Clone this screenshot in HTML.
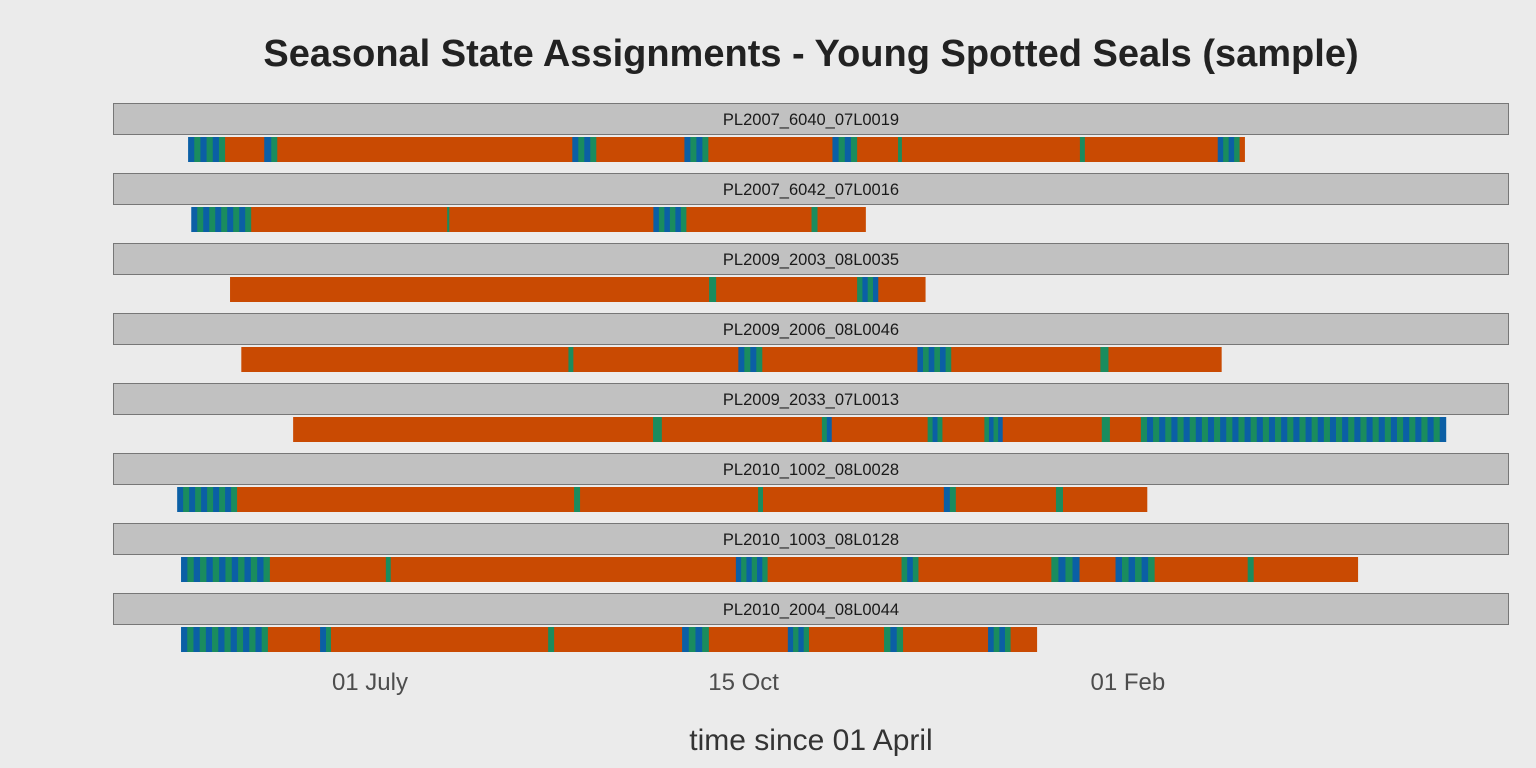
<!DOCTYPE html>
<html><head><meta charset="utf-8"><style>
html,body{margin:0;padding:0;background:#ebebeb;}
svg{display:block;font-family:"Liberation Sans",sans-serif;}
</style></head><body>
<svg id="chart" width="1536" height="768">
<text x="811" y="66" text-anchor="middle" font-size="38" font-weight="bold" fill="#222">Seasonal State Assignments - Young Spotted Seals (sample)</text>
<g id="rows"></g>
<g id="xaxis"></g>
<text x="811" y="750" text-anchor="middle" font-size="30" fill="#333">time since 01 April</text>
</svg>
<script>
const seals = ["PL2007_6040_07L0019","PL2007_6042_07L0016","PL2009_2003_08L0035","PL2009_2006_08L0046","PL2009_2033_07L0013","PL2010_1002_08L0028","PL2010_1003_08L0128","PL2010_2004_08L0044"];
const startDays = [39.4,40.3,51.3,54.5,69.2,36.3,37.4,37.4];
const tickDays = [91,197,306];
const tickLabels = ["01 July","15 Oct","01 Feb"];
const row1 = [["B",1.75],["G",1.75],["B",1.75],["G",1.75],["B",1.75],["G",1.75],["O",11.1],["B",2],["G",1.7],["O",83.7],["B",1.7],["G",1.7],["B",1.7],["G",1.7],["O",25],["B",1.7],["G",1.7],["B",1.7],["G",1.7],["O",35.2],["B",1.75],["G",1.75],["B",1.75],["G",1.75],["O",11.6],["G",1.1],["O",50.5],["G",1.4],["O",37.7],["B",1.55],["G",1.55],["B",1.55],["G",1.55],["O",1.4]];
const row2 = [["B",1.7],["G",1.7],["B",1.7],["G",1.7],["B",1.7],["G",1.7],["B",1.7],["G",1.7],["B",1.7],["G",1.7],["O",55.6],["G",0.6],["O",57.9],["B",1.56],["G",1.56],["B",1.56],["G",1.56],["B",1.56],["G",1.56],["O",35.5],["G",1.7],["O",13.6]];
const row3 = [["O",135.9],["G",2],["O",40],["G",1.5],["B",1.5],["G",1.5],["B",1.5],["O",13.3]];
const row4 = [["O",92.8],["G",1.4],["O",46.8],["B",1.7],["G",1.7],["B",1.7],["G",1.7],["O",44],["B",1.6],["G",1.6],["B",1.6],["G",1.6],["B",1.6],["G",1.6],["O",42.3],["G",2.3],["O",32]];
const row5 = [["O",102.1],["G",2.5],["O",45.4],["G",1.4],["B",1.4],["O",27.2],["G",1.4],["B",1.4],["G",1.4],["O",11.9],["G",1.3],["B",1.3],["G",1.3],["B",1.3],["O",28.1],["G",2.3],["O",8.8],
["G",1.73],["B",1.73],["G",1.73],["B",1.73],["G",1.73],["B",1.73],["G",1.73],["B",1.73],["G",1.73],["B",1.73],
["G",1.73],["B",1.73],["G",1.73],["B",1.73],["G",1.73],["B",1.73],["G",1.73],["B",1.73],["G",1.73],["B",1.73],
["G",1.73],["B",1.73],["G",1.73],["B",1.73],["G",1.73],["B",1.73],["G",1.73],["B",1.73],["G",1.73],["B",1.73],
["G",1.73],["B",1.73],["G",1.73],["B",1.73],["G",1.73],["B",1.73],["G",1.73],["B",1.73],["G",1.73],["B",1.73],
["G",1.73],["B",1.73],["G",1.73],["B",1.73],["G",1.73],["B",1.73],["G",1.73],["B",1.73],["G",1.73],["B",1.73]];
const row6 = [["B",1.7],["G",1.7],["B",1.7],["G",1.7],["B",1.7],["G",1.7],["B",1.7],["G",1.7],["B",1.7],["G",1.7],["O",95.6],["G",1.7],["O",50.5],["G",1.4],["O",51.3],["B",1.7],["G",1.7],["O",28.4],["G",2],["O",23.8]];
const row7 = [["B",1.8],["G",1.8],["B",1.8],["G",1.8],["B",1.8],["G",1.8],["B",1.8],["G",1.8],["B",1.8],["G",1.8],["B",1.8],["G",1.8],["B",1.8],["G",1.8],["O",32.9],["G",1.4],["O",97.9],["B",1.5],["G",1.5],["B",1.5],["G",1.5],["B",1.5],["G",1.5],["O",38],["G",1.6],["B",1.6],["G",1.6],["O",37.7],["G",2],["B",2],["G",2],["B",2],["O",10.2],["B",1.85],["G",1.85],["B",1.85],["G",1.85],["B",1.85],["G",1.85],["O",26.4],["G",1.7],["O",29.5]];
const row8 = [["B",1.76],["G",1.76],["B",1.76],["G",1.76],["B",1.76],["G",1.76],["B",1.76],["G",1.76],["B",1.76],["G",1.76],["B",1.76],["G",1.76],["B",1.76],["G",1.76],["O",14.8],["B",1.7],["G",1.4],["O",61.6],["G",1.7],["O",36.3],["B",1.9],["G",1.9],["B",1.9],["G",1.9],["O",22.4],["B",1.5],["G",1.5],["B",1.5],["G",1.5],["O",21.3],["G",1.8],["B",1.8],["G",1.8],["O",24.1],["B",1.6],["G",1.6],["B",1.6],["G",1.6],["O",7.4]];
const runs = [row1,row2,row3,row4,row5,row6,row7,row8];

const NS="http://www.w3.org/2000/svg";
const colors={O:"#c94a02",B:"#0b5fa5",G:"#1a8c5e"};
const pxPerDay=3.525, day0=49.2;
function xScale(d){return day0+d*pxPerDay;}
function mk(tag,attrs,parent){const e=document.createElementNS(NS,tag);for(const k in attrs)e.setAttribute(k,attrs[k]);parent.appendChild(e);return e;}
const rowsG=document.getElementById('rows');
seals.forEach((name,i)=>{
  const top=103+i*70;
  const g=mk('g',{},rowsG);
  
  
  const strip=mk('rect',{x:113.5,y:top+0.5,width:1395,height:31,fill:"#c1c1c1",stroke:"#777","stroke-width":1},g);
  
  
  const lbl=mk('text',{x:811,y:top+22,"text-anchor":"middle","font-size":16.5,fill:"#1a1a1a"},g);
  lbl.textContent=name;
  
  
  let d=startDays[i];
  runs[i].forEach(([s,len])=>{
    const x1=xScale(d), x2=xScale(d+len);
    const r=mk('rect',{x:x1,y:top+34,width:(x2-x1)+0.4,height:25,fill:colors[s]},g);
    
    
    d+=len;
  });
});
const ax=document.getElementById('xaxis');
tickDays.forEach((t,i)=>{
  const tx=mk('text',{x:xScale(t),y:690,"text-anchor":"middle","font-size":24,fill:"#4d4d4d"},ax);
  tx.textContent=tickLabels[i];
  
  
});
</script>
</body></html>
